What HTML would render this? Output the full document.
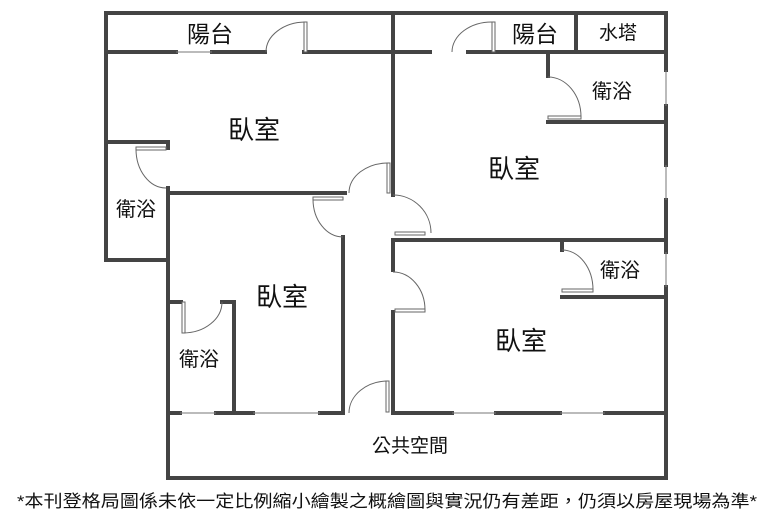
<!DOCTYPE html>
<html><head><meta charset="utf-8"><style>
html,body{margin:0;padding:0;background:#fff;}
svg{display:block;}
text{font-family:"Liberation Sans","Noto Sans CJK TC",sans-serif;fill:#111;}
</style></head><body>
<svg width="774" height="529" viewBox="0 0 774 529" xmlns="http://www.w3.org/2000/svg">
<g stroke="#444" stroke-width="4" fill="none" stroke-linecap="square">
<path d="M106 13 H666 V70 M666 106 V165 M666 200 V252 M666 287 V478 H168 V188"/>
<path d="M106 13 V260 H168 M106 142 H168 V148"/>
<path d="M106 52 H176 M212 52 H265 M304 52 H430 M468 52 H666"/>
<path d="M393 13 V195 M576 13 V52"/>
<path d="M548 52 V76 M548 122 H666"/>
<path d="M168 193 H345"/>
<path d="M343 237 V413 H320 M253 413 H216 M180 413 H168"/>
<path d="M393 240 H666 M393 240 V270 M393 312 V413 H452 M496 413 H560 M605 413 H666"/>
<path d="M562 240 V250 M562 297 H666"/>
<path d="M168 302 H181 M222 302 H234 V413"/>
</g>
<g stroke="#777" stroke-width="1" fill="#fff">
<line x1="176" y1="52" x2="212" y2="52"/>
<line x1="180" y1="413" x2="216" y2="413"/>
<line x1="253" y1="413" x2="320" y2="413"/>
<line x1="452" y1="413" x2="496" y2="413"/>
<line x1="560" y1="413" x2="605" y2="413"/>
<line x1="666" y1="70" x2="666" y2="106"/>
<line x1="666" y1="165" x2="666" y2="200"/>
<line x1="666" y1="252" x2="666" y2="287"/>
</g>
<g stroke="#666" stroke-width="1" fill="none">
<rect x="304" y="22" width="3" height="30" fill="#fff"/>
<path d="M266 52 A40 30 0 0 1 305 22"/>
<rect x="492" y="22" width="3" height="30" fill="#fff"/>
<path d="M452 52 A40 30 0 0 1 493 22"/>
<rect x="136" y="147" width="30" height="3" fill="#fff"/>
<path d="M136 149 A30 39 0 0 0 166 188"/>
<rect x="387" y="163" width="3" height="30" fill="#fff"/>
<path d="M349 193 A39 30 0 0 1 388 163"/>
<rect x="313" y="197" width="30" height="3" fill="#fff"/>
<path d="M313 199 A30 38 0 0 0 343 237"/>
<rect x="395" y="232" width="30" height="3" fill="#fff"/>
<path d="M393 195 A38 38 0 0 1 431 233"/>
<rect x="395" y="309" width="30" height="3" fill="#fff"/>
<path d="M393 272 A32 38 0 0 1 425 310"/>
<rect x="386" y="381" width="3" height="31" fill="#fff"/>
<path d="M349 413 A39 32 0 0 1 388 381"/>
<rect x="182" y="302" width="3" height="31" fill="#fff"/>
<path d="M183 333 A39 31 0 0 0 222 302"/>
<rect x="548" y="116" width="33" height="3" fill="#fff"/>
<path d="M548 77 A33 40 0 0 1 581 117"/>
<rect x="562" y="289" width="31" height="3" fill="#fff"/>
<path d="M562 250 A31 40 0 0 1 593 290"/>
</g>
<text x="210" y="42" font-size="23" text-anchor="middle">陽台</text>
<text x="535" y="42" font-size="23" text-anchor="middle">陽台</text>
<text x="618" y="39" font-size="19" text-anchor="middle">水塔</text>
<text x="612" y="98" font-size="20" text-anchor="middle">衛浴</text>
<text x="136" y="216" font-size="20" text-anchor="middle">衛浴</text>
<text x="620" y="277" font-size="20" text-anchor="middle">衛浴</text>
<text x="199" y="366" font-size="20" text-anchor="middle">衛浴</text>
<text x="254" y="139" font-size="26" text-anchor="middle">臥室</text>
<text x="514" y="178" font-size="26" text-anchor="middle">臥室</text>
<text x="282" y="306" font-size="26" text-anchor="middle">臥室</text>
<text x="521" y="350" font-size="26" text-anchor="middle">臥室</text>
<text x="410" y="452" font-size="19" text-anchor="middle">公共空間</text>
<text x="17" y="507" font-size="17" textLength="740" lengthAdjust="spacingAndGlyphs">*本刊登格局圖係未依一定比例縮小繪製之概繪圖與實況仍有差距，仍須以房屋現場為準*</text>
</svg>
</body></html>
